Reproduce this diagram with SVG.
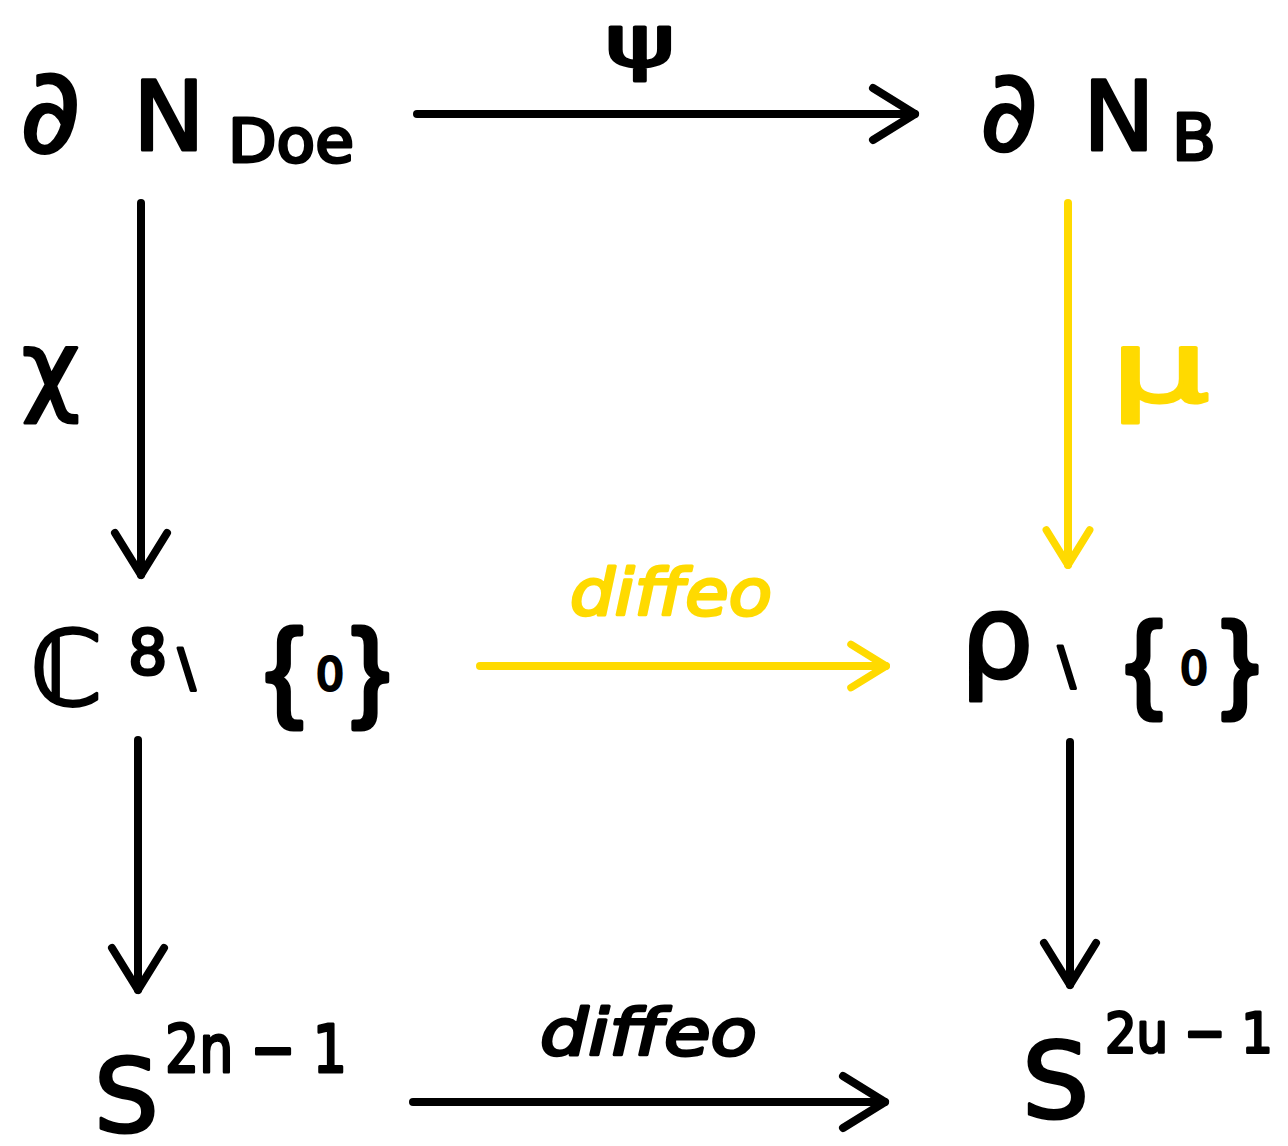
<svg xmlns="http://www.w3.org/2000/svg" width="1288" height="1146" viewBox="0 0 1288 1146">
<style>
  .t { font-family: "DejaVu Sans", "Liberation Sans", sans-serif; font-weight: normal; fill: #000; stroke: #000; stroke-width: 3; stroke-linejoin: round; }
  .br { font-family: "Liberation Sans", "DejaVu Sans", sans-serif; stroke-width: 5; }
  .y { fill: #FFDA00; stroke: #FFDA00; }
  .edge { fill: none; stroke-width: 8; stroke-linecap: round; }
  .k { stroke: #000; }
  .g { stroke: #FFDA00; }
</style>
<defs>
  <marker id="ak" viewBox="0 0 50 60" refX="46" refY="30" markerWidth="50" markerHeight="60" markerUnits="userSpaceOnUse" orient="auto" overflow="visible">
    <path d="M4,4 L46,30 L4,56" fill="none" stroke="#000" stroke-width="8" stroke-linecap="round" stroke-linejoin="round"/>
  </marker>
  <marker id="ay" viewBox="0 0 50 60" refX="46" refY="30" markerWidth="44" markerHeight="50" markerUnits="userSpaceOnUse" orient="auto" overflow="visible">
    <path d="M4,4 L46,30 L4,56" fill="none" stroke="#FFDA00" stroke-width="9" stroke-linecap="round" stroke-linejoin="round"/>
  </marker>
</defs>
<rect width="1288" height="1146" fill="#fff"/>

<g id="connectors">
  <line class="edge k" x1="417" y1="114" x2="915" y2="114" marker-end="url(#ak)"/>
  <text class="t" x="605" y="66" font-size="72" textLength="70" lengthAdjust="spacingAndGlyphs">ψ</text>
  <line class="edge k" x1="141" y1="203" x2="141" y2="575" marker-end="url(#ak)"/>
  <text class="t" x="22" y="402" font-size="100">χ</text>
  <line class="edge g" x1="1068" y1="203" x2="1068" y2="565" marker-end="url(#ay)"/>
  <text class="t y" x="1110" y="402" font-size="100" textLength="100" lengthAdjust="spacingAndGlyphs">μ</text>
  <line class="edge g" x1="480" y1="666" x2="886" y2="666" marker-end="url(#ay)"/>
  <text class="t y" x="570" y="615" font-size="64" font-style="italic" textLength="202" lengthAdjust="spacingAndGlyphs">diffeo</text>
  <line class="edge k" x1="138" y1="740" x2="138" y2="990" marker-end="url(#ak)"/>
  <line class="edge k" x1="1070" y1="742" x2="1070" y2="985" marker-end="url(#ak)"/>
  <line class="edge k" x1="413" y1="1102" x2="885" y2="1102" marker-end="url(#ak)"/>
  <text class="t" x="540" y="1055" font-size="64" font-style="italic" textLength="217" lengthAdjust="spacingAndGlyphs">diffeo</text>
</g>

<g id="n-boundary-dol">
  <text class="t" x="20" y="152" font-size="118">∂</text>
  <text class="t" x="133" y="150" font-size="96">N</text>
  <text class="t" x="228" y="162" font-size="60" textLength="126" lengthAdjust="spacingAndGlyphs">Doe</text>
</g>

<g id="n-boundary-b">
  <text class="t" x="980" y="150" font-size="112">∂</text>
  <text class="t" x="1083" y="150" font-size="96">N</text>
  <text class="t" x="1172" y="160" font-size="64">B</text>
</g>

<g id="n-cn-minus-0">
  <text class="t" x="30" y="705" font-size="104">ℂ</text>
  <text class="t" x="128" y="674" font-size="62">8</text>
  <text class="t" x="178" y="686" font-size="52">\</text>
  <text class="t br" x="266" y="706" font-size="110">{</text>
  <text class="t" x="316" y="690" font-size="44">0</text>
  <text class="t br" x="352" y="706" font-size="110">}</text>
</g>

<g id="n-rho-minus-0">
  <text class="t" x="960" y="677" font-size="116">ρ</text>
  <text class="t" x="1058" y="684" font-size="52">\</text>
  <text class="t br" x="1126" y="698" font-size="108">{</text>
  <text class="t" x="1180" y="684" font-size="44">0</text>
  <text class="t br" x="1222" y="698" font-size="108">}</text>
</g>

<g id="n-sphere-2n-1">
  <text class="t" x="94" y="1132" font-size="102">S</text>
  <text class="t" x="165" y="1072" font-size="66" textLength="182" lengthAdjust="spacingAndGlyphs">2n − 1</text>
</g>

<g id="n-sphere-2u-1">
  <text class="t" x="1022" y="1118" font-size="106">S</text>
  <text class="t" x="1105" y="1052" font-size="56" textLength="168" lengthAdjust="spacingAndGlyphs">2u − 1</text>
</g>
</svg>
